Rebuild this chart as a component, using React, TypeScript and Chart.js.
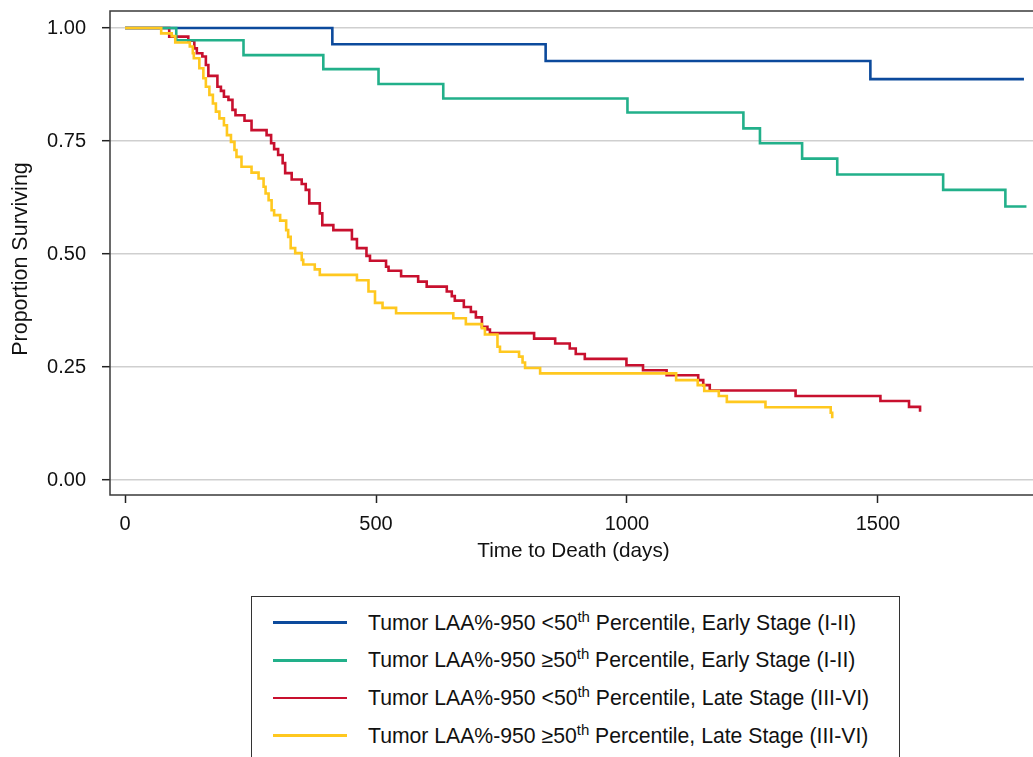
import React, { useEffect, useRef } from "react";
import { Chart, registerables } from "chart.js";

Chart.register(...registerables);

const FONT = "'Liberation Sans', Arial, Helvetica, sans-serif";

// ---- data (days, survival proportion) ----
const blueDays = [0, 413, 838, 1485, 1791];
const blueSurv = [1, 0.964, 0.927, 0.887, 0.887];

const greenDays = [0, 102, 236, 395, 505, 634, 1001, 1232, 1265, 1349, 1419, 1630, 1754, 1796];
const greenSurv = [1, 0.973, 0.94, 0.909, 0.876, 0.844, 0.813, 0.778, 0.745, 0.711, 0.676, 0.642, 0.605, 0.605];

const redDays = [
  0, 88, 126, 138, 143, 154, 161, 166, 184, 191, 197, 206, 214, 220, 238, 252, 282, 291, 297, 305,
  314, 319, 332, 352, 360, 367, 388, 393, 415, 452, 462, 481, 488, 520, 525, 550, 584, 601, 641, 651,
  657, 675, 689, 699, 711, 722, 727, 815, 857, 886, 898, 916, 999, 1032, 1079, 1142, 1152, 1165, 1336,
  1505, 1562, 1584,
];
const redSurv = [
  1, 0.981, 0.972, 0.955, 0.944, 0.937, 0.918, 0.894, 0.87, 0.861, 0.848, 0.841, 0.819, 0.807, 0.795,
  0.774, 0.763, 0.745, 0.732, 0.719, 0.701, 0.679, 0.665, 0.655, 0.642, 0.612, 0.59, 0.564, 0.553,
  0.533, 0.513, 0.496, 0.485, 0.472, 0.463, 0.451, 0.439, 0.428, 0.417, 0.407, 0.397, 0.383, 0.372,
  0.36, 0.339, 0.333, 0.325, 0.313, 0.302, 0.291, 0.279, 0.268, 0.254, 0.243, 0.232, 0.221, 0.21,
  0.198, 0.186, 0.175, 0.162, 0.151,
];

const yellowDays = [
  0, 72, 93, 100, 129, 135, 137, 148, 156, 161, 168, 175, 181, 188, 197, 203, 211, 218, 222, 232, 252,
  266, 276, 280, 286, 292, 297, 309, 321, 325, 330, 339, 352, 355, 378, 388, 462, 485, 498, 513, 540,
  654, 679, 711, 717, 742, 747, 785, 792, 797, 827, 1098, 1141, 1154, 1183, 1199, 1276, 1406, 1409,
];
const yellowSurv = [
  1, 0.988, 0.982, 0.968, 0.959, 0.944, 0.933, 0.911, 0.889, 0.87, 0.852, 0.833, 0.815, 0.8, 0.785,
  0.763, 0.748, 0.73, 0.715, 0.693, 0.68, 0.667, 0.649, 0.634, 0.619, 0.597, 0.586, 0.574, 0.553,
  0.538, 0.513, 0.502, 0.487, 0.477, 0.466, 0.454, 0.442, 0.417, 0.392, 0.381, 0.369, 0.358, 0.345,
  0.336, 0.322, 0.295, 0.284, 0.273, 0.26, 0.248, 0.236, 0.221, 0.21, 0.197, 0.186, 0.173, 0.161,
  0.149, 0.137,
];

const xTicks = [0, 500, 1000, 1500];
const yTicks = [0, 0.25, 0.5, 0.75, 1];

const legendOps = ["<", "\u2265", "<", "\u2265"];
const legendStages = ["Early Stage (I-II)", "Early Stage (I-II)", "Late Stage (III-VI)", "Late Stage (III-VI)"];
const legendColors = ["#0c4a9c", "#22b08a", "#c8102e", "#ffc81f"];

const toPts = (d: number[], s: number[]) => d.map((x, i) => ({ x, y: s[i] }));

const framePlugin = {
  id: "frameAndTitles",
  beforeDatasetsDraw(chart: any) {
    const { ctx, chartArea } = chart;
    ctx.save();
    ctx.strokeStyle = "#3a3a3a";
    ctx.lineWidth = 1.5;
    ctx.beginPath();
    ctx.moveTo(chartArea.left, chartArea.top);
    ctx.lineTo(chartArea.right, chartArea.top);
    ctx.lineTo(chartArea.right, chartArea.bottom);
    ctx.lineTo(chartArea.left, chartArea.bottom);
    ctx.closePath();
    ctx.stroke();
    ctx.restore();
  },
  afterDraw(chart: any) {
    const { ctx } = chart;
    ctx.save();
    ctx.fillStyle = "#111";
    ctx.textAlign = "center";
    ctx.textBaseline = "alphabetic";
    ctx.font = `20.7px ${FONT}`;
    ctx.fillText("Time to Death (days)", 573.5, 556.5);
    ctx.font = `21.5px ${FONT}`;
    ctx.translate(27, 259);
    ctx.rotate(-Math.PI / 2);
    ctx.fillText("Proportion Surviving", 0, 0);
    ctx.restore();
  },
};

export default function App() {
  const ref = useRef<HTMLCanvasElement>(null);

  useEffect(() => {
    const mk = (label: string, d: number[], s: number[], color: string) => ({
      label,
      data: toPts(d, s),
      borderColor: color,
      backgroundColor: color,
      borderWidth: 2.6,
      pointRadius: 0,
      stepped: "before" as const,
      fill: false,
      tension: 0,
    });
    const chart = new Chart(ref.current!, {
      type: "line",
      data: {
        datasets: [
          mk("yellow", yellowDays, yellowSurv, legendColors[3]),
          mk("green", greenDays, greenSurv, legendColors[1]),
          mk("red", redDays, redSurv, legendColors[2]),
          mk("blue", blueDays, blueSurv, legendColors[0]),
        ],
      },
      options: {
        animation: false,
        responsive: false,
        layout: { padding: { left: 0, top: 11, right: 23, bottom: 0 } },
        plugins: { legend: { display: false }, tooltip: { enabled: false } },
        scales: {
          x: {
            type: "linear",
            min: -30,
            max: 1817,
            afterBuildTicks: (s: any) => {
              s.ticks = xTicks.map((v) => ({ value: v }));
            },
            afterFit: (s: any) => {
              s.height = 95;
              s.paddingLeft = 0;
              s.paddingRight = 0;
            },
            border: { display: false },
            grid: {
              drawOnChartArea: false,
              drawTicks: true,
              tickLength: 8,
              tickColor: "#222",
              tickWidth: 1.5,
            },
            ticks: {
              padding: 9,
              maxRotation: 0,
              color: "#111",
              font: { family: FONT, size: 20 },
              callback: (v: any) => String(v),
            },
          },
          y: {
            type: "linear",
            min: -0.033,
            max: 1.0376,
            afterBuildTicks: (s: any) => {
              s.ticks = yTicks.map((v) => ({ value: v }));
            },
            afterFit: (s: any) => {
              s.width = 110;
              s.paddingTop = 0;
              s.paddingBottom = 0;
            },
            border: { display: false },
            grid: {
              color: "#cfcfcf",
              lineWidth: 1.4,
              drawTicks: true,
              tickLength: 8,
              tickColor: "#222",
              tickWidth: 1.5,
            },
            ticks: {
              padding: 16,
              color: "#111",
              font: { family: FONT, size: 20 },
              callback: (v: any) => Number(v).toFixed(2),
            },
          },
        },
      },
      plugins: [framePlugin],
    });
    return () => chart.destroy();
  }, []);

  const rowY = [622.3, 660.2, 698, 735.8];

  return (
    <div
      style={{
        position: "fixed",
        left: 0,
        top: 0,
        width: 1033,
        height: 757,
        overflow: "hidden",
        background: "#fff",
        fontFamily: FONT,
      }}
    >
      <canvas
        ref={ref}
        width={1060}
        height={590}
        style={{ position: "absolute", left: 0, top: 0, width: 1060, height: 590 }}
      />
      <div
        style={{
          position: "absolute",
          left: 251,
          top: 595.5,
          width: 649,
          height: 220,
          border: "1.5px solid #333",
          boxSizing: "border-box",
        }}
      />
      {legendOps.map((op, i) => (
        <React.Fragment key={i}>
          <div
            style={{
              position: "absolute",
              left: 273,
              top: rowY[i] - 1.4,
              width: 74,
              height: 2.8,
              background: legendColors[i],
            }}
          />
          <div
            style={{
              position: "absolute",
              left: 368,
              top: rowY[i] - 11.8,
              fontSize: 21.2,
              lineHeight: "24px",
              whiteSpace: "nowrap",
              color: "#111",
            }}
          >
            Tumor LAA%-950 {op}50
            <span style={{ fontSize: 15, position: "relative", top: -8 }}>th</span> Percentile, {legendStages[i]}
          </div>
        </React.Fragment>
      ))}
    </div>
  );
}
